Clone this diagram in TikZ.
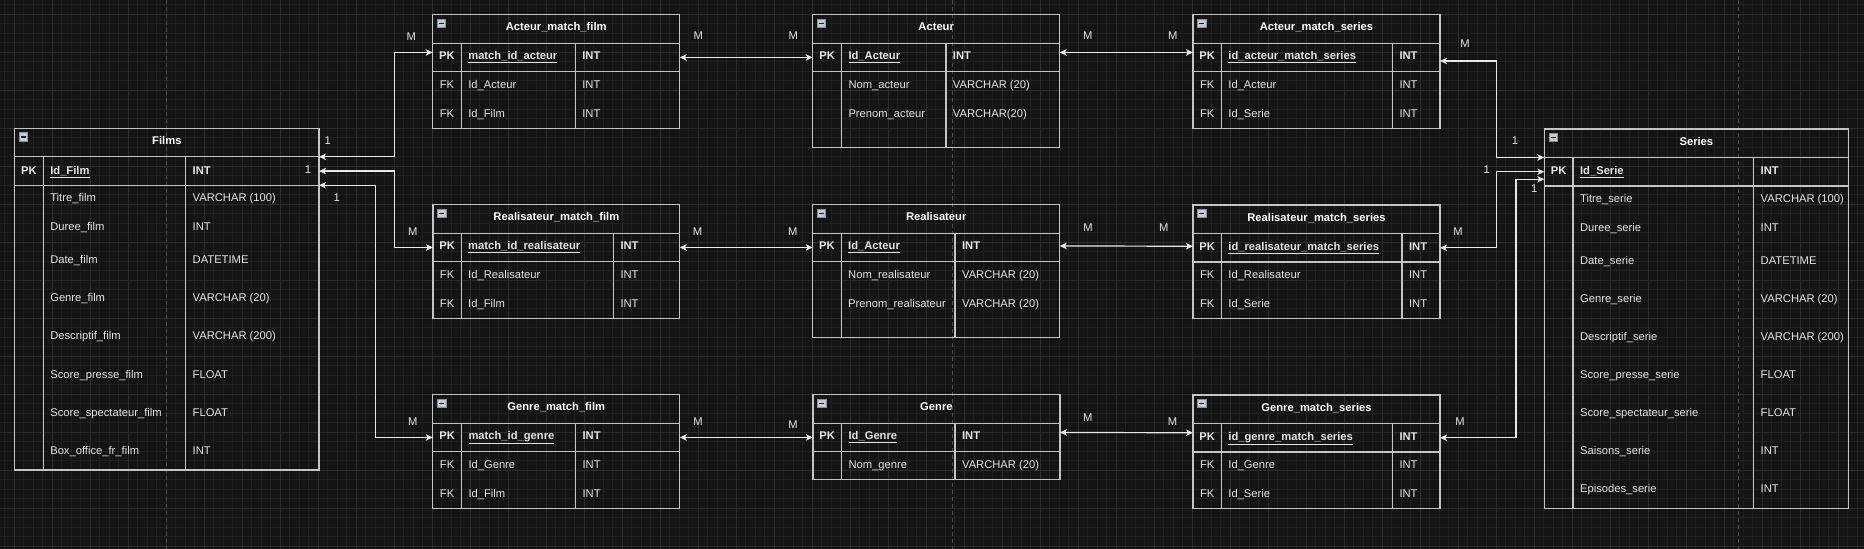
\documentclass[tikz,border=0pt]{standalone}
\usepackage{fontspec}
\setmainfont{Liberation Sans}
\usepackage{tikz}
\usetikzlibrary{arrows.meta,positioning}
\definecolor{bgdark}{RGB}{20,20,20}
\definecolor{gridminor}{RGB}{31,31,31}
\definecolor{gridmajor}{RGB}{44,44,44}
\definecolor{pageline}{RGB}{78,78,78}
\definecolor{edgegray}{RGB}{196,196,196}
\definecolor{linkwhite}{RGB}{232,232,232}
\definecolor{txtgray}{RGB}{228,228,228}
\definecolor{iconfill}{RGB}{198,202,214}
\definecolor{boxedge}{RGB}{140,144,156}
\definecolor{icondark}{RGB}{30,30,34}

% table frame: name, x, y, width, height, title, col1, col2
\newcommand{\ertable}[8]{%
  \def\tabx{#2}\def\taby{#3}\def\tabca{#7}\def\tabcb{#8}%
  \node[tbl, minimum width=#4pt, minimum height=#5pt] (#1) at (#2,#3) {};
  \node[pkband, minimum width=#4pt] (#1_pk) at (#2,{#3+28.5}) {};
  \draw[tline] ({#2+#7},{#3+28.5}) -- ({#2+#7},{#3+#5});
  \draw[tline] ({#2+#8},{#3+28.5}) -- ({#2+#8},{#3+#5});
  \node[minusbox] (#1_m) at ({#2+8.8},{#3+8.5}) {};
  \node[ttl] (#1_t) at ({#2+#4/2},{#3+16}) {#6};
}
% one row: name, baseline offset, key, field, type
\newcommand{\errow}[5]{%
  \node[fld] (#1_k) at ({\tabx+\tabca/2},{\taby+#2}) {#3};
  \node[fld, anchor=base west] (#1_f) at ({\tabx+\tabca+7},{\taby+#2}) {#4};
  \node[fld, anchor=base west] (#1_v) at ({\tabx+\tabcb+7},{\taby+#2}) {#5};
}
\newcommand{\erpk}[3]{\errow{#1}{#2}{\textbf{PK}}{\textbf{\underline{#3}}}{\textbf{INT}}}

\begin{document}
\begin{tikzpicture}[x=1pt, y=-1pt, >={Stealth[length=7pt,width=6.5pt,inset=1.8pt]},
  every node/.style={font=\fontsize{11.2}{13}\selectfont, text=txtgray, inner sep=0pt, outer sep=0pt},
  tbl/.style={draw=edgegray, line width=1.3pt, rectangle, anchor=north west},
  pkband/.style={draw=edgegray, line width=1.3pt, rectangle, anchor=north west, minimum height=28.5pt},
  tline/.style={draw=edgegray, line width=1.3pt},
  ttl/.style={font=\fontsize{11.2}{13}\selectfont\bfseries, text=white, anchor=base},
  fld/.style={anchor=base},
  minusbox/.style={draw=boxedge, fill=iconfill, minimum size=8.5pt, line width=0.6pt,
    path picture={\draw[icondark, line width=1.4pt] ([xshift=1.8pt]path picture bounding box.west) -- ([xshift=-1.8pt]path picture bounding box.east);}},
  card/.style={anchor=center},
  link/.style={draw=linkwhite, line width=1.2pt, <->}]

  % background and grid
  \fill[bgdark] (0,0) rectangle (1864,549);
  \useasboundingbox (0,0) rectangle (1864,549);
  \foreach \i in {0,...,195} \draw[gridminor, line width=0.8pt] ({4.8+9.5*\i},0) -- ({4.8+9.5*\i},549);
  \foreach \i in {0,...,57} \draw[gridminor, line width=0.8pt] (0,{4.8+9.5*\i}) -- (1864,{4.8+9.5*\i});
  \foreach \i in {0,...,48} \draw[gridmajor, line width=1pt] ({14.3+38*\i},0) -- ({14.3+38*\i},549);
  \foreach \i in {0,...,14} \draw[gridmajor, line width=1pt] (0,{14.3+38*\i}) -- (1864,{14.3+38*\i});
  \foreach \px in {166.7,952.3,1738.5} \draw[pageline, line width=1pt, dash pattern=on 4pt off 3pt] (\px,0) -- (\px,549);

  % Films
  \ertable{films}{14.7}{128.3}{304.3}{341.7}{Films}{28.6}{171}
  \erpk{films_r0}{45.7}{Id\_Film}
  \errow{films_r1}{73.4}{}{Titre\_film}{VARCHAR (100)}
  \errow{films_r2}{102.4}{}{Duree\_film}{INT}
  \errow{films_r3}{135.4}{}{Date\_film}{DATETIME}
  \errow{films_r4}{173.4}{}{Genre\_film}{VARCHAR (20)}
  \errow{films_r5}{211.4}{}{Descriptif\_film}{VARCHAR (200)}
  \errow{films_r6}{249.7}{}{Score\_presse\_film}{FLOAT}
  \errow{films_r7}{287.7}{}{Score\_spectateur\_film}{FLOAT}
  \errow{films_r8}{325.7}{}{Box\_office\_fr\_film}{INT}

  % Series
  \ertable{series}{1544.3}{129}{304.1}{379.3}{Series}{28.8}{209.4}
  \erpk{series_r0}{45}{Id\_Serie}
  \errow{series_r1}{73}{}{Titre\_serie}{VARCHAR (100)}
  \errow{series_r2}{102}{}{Duree\_serie}{INT}
  \errow{series_r3}{135}{}{Date\_serie}{DATETIME}
  \errow{series_r4}{173}{}{Genre\_serie}{VARCHAR (20)}
  \errow{series_r5}{211}{}{Descriptif\_serie}{VARCHAR (200)}
  \errow{series_r6}{249}{}{Score\_presse\_serie}{FLOAT}
  \errow{series_r7}{287}{}{Score\_spectateur\_serie}{FLOAT}
  \errow{series_r8}{325}{}{Saisons\_serie}{INT}
  \errow{series_r9}{363}{}{Episodes\_serie}{INT}

  % Acteur row
  \ertable{amf}{432.7}{14.7}{247}{113.6}{Acteur\_match\_film}{28.6}{142.6}
  \erpk{amf_r0}{45}{match\_id\_acteur}
  \errow{amf_r1}{73.6}{FK}{Id\_Acteur}{INT}
  \errow{amf_r2}{102.5}{FK}{Id\_Film}{INT}

  \ertable{acteur}{812.7}{14.7}{247}{132.6}{Acteur}{28.8}{133.2}
  \erpk{acteur_r0}{45}{Id\_Acteur}
  \errow{acteur_r1}{73.6}{}{Nom\_acteur}{VARCHAR (20)}
  \errow{acteur_r2}{102.5}{}{Prenom\_acteur}{VARCHAR(20)}

  \ertable{ams}{1193}{14.7}{247}{113.6}{Acteur\_match\_series}{28.4}{199.5}
  \erpk{ams_r0}{45}{id\_acteur\_match\_series}
  \errow{ams_r1}{73.6}{FK}{Id\_Acteur}{INT}
  \errow{ams_r2}{102.5}{FK}{Id\_Serie}{INT}

  % Realisateur row
  \ertable{rmf}{433}{204.7}{246.7}{113.6}{Realisateur\_match\_film}{28.2}{180.5}
  \erpk{rmf_r0}{45}{match\_id\_realisateur}
  \errow{rmf_r1}{73.6}{FK}{Id\_Realisateur}{INT}
  \errow{rmf_r2}{102.5}{FK}{Id\_Film}{INT}

  \ertable{real}{812.7}{204.7}{247}{132.6}{Realisateur}{28.5}{142.4}
  \erpk{real_r0}{45}{Id\_Acteur}
  \errow{real_r1}{73.6}{}{Nom\_realisateur}{VARCHAR (20)}
  \errow{real_r2}{102.5}{}{Prenom\_realisateur}{VARCHAR (20)}

  \ertable{rms}{1193}{205}{247}{113.3}{Realisateur\_match\_series}{28.4}{209.1}
  \erpk{rms_r0}{45}{id\_realisateur\_match\_series}
  \errow{rms_r1}{73.6}{FK}{Id\_Realisateur}{INT}
  \errow{rms_r2}{102.5}{FK}{Id\_Serie}{INT}

  % Genre row
  \ertable{gmf}{432.8}{394.7}{247}{113.6}{Genre\_match\_film}{28.7}{142.8}
  \erpk{gmf_r0}{45}{match\_id\_genre}
  \errow{gmf_r1}{73.6}{FK}{Id\_Genre}{INT}
  \errow{gmf_r2}{102.5}{FK}{Id\_Film}{INT}

  \ertable{genre}{812.9}{394.7}{247}{85}{Genre}{28.7}{142.2}
  \erpk{genre_r0}{45}{Id\_Genre}
  \errow{genre_r1}{73.6}{}{Nom\_genre}{VARCHAR (20)}

  \ertable{gms}{1193}{395}{247}{113.3}{Genre\_match\_series}{28.4}{199.5}
  \erpk{gms_r0}{45}{id\_genre\_match\_series}
  \errow{gms_r1}{73.6}{FK}{Id\_Genre}{INT}
  \errow{gms_r2}{102.5}{FK}{Id\_Serie}{INT}

  % relations
  \draw[link] (films_pk.north east) -- ++(75.3,0) |- ([yshift=5pt]amf_pk.west);
  \draw[link] (films_pk.east) -- ++(75.3,0) |- (rmf_pk.west);
  \draw[link] (films_pk.south east) -- ++(56.7,0) |- (gmf_pk.west);
  \draw[link] (amf_pk.east) -- (acteur_pk.west);
  \draw[link] ([yshift=5pt]acteur_pk.east) -- ([yshift=5pt]ams_pk.west);
  \draw[link] ([yshift=-3.5pt]ams_pk.east) -- ++(56.8,0) |- (series_pk.north west);
  \draw[link] (rmf_pk.east) -- (real_pk.west);
  \draw[link] ([yshift=1.5pt]real_pk.east) -- ([yshift=1.5pt]rms_pk.west);
  \draw[link] (rms_pk.east) -- ++(56.8,0) |- (series_pk.west);
  \draw[link] (gmf_pk.east) -- (genre_pk.west);
  \draw[link] ([yshift=5pt]genre_pk.east) -- ([yshift=5pt]gms_pk.west);
  \draw[link] (gms_pk.east) -- ++(76,0) |- ([yshift=-7.5pt]series_pk.west);

  % cardinalities
  \node[card] (c_af1) at (327.7,141) {1};
  \node[card] (c_af2) at (411.3,36.9) {M};
  \node[card] (c_rf1) at (308,170) {1};
  \node[card] (c_rf2) at (412.7,231.7) {M};
  \node[card] (c_gf1) at (336.7,197.7) {1};
  \node[card] (c_gf2) at (412.7,421.7) {M};
  \node[card] (c_aa1) at (698.3,36) {M};
  \node[card] (c_aa2) at (793.3,36) {M};
  \node[card] (c_as1) at (1087.9,36) {M};
  \node[card] (c_as2) at (1172.9,36) {M};
  \node[card] (c_se1) at (1464.9,43.3) {M};
  \node[card] (c_se2) at (1515,141) {1};
  \node[card] (c_rr1) at (697.6,231.7) {M};
  \node[card] (c_rr2) at (792.7,231.7) {M};
  \node[card] (c_rs1) at (1088,227.7) {M};
  \node[card] (c_rs2) at (1163.7,227.7) {M};
  \node[card] (c_sr1) at (1458,231.7) {M};
  \node[card] (c_sr2) at (1486.7,170) {1};
  \node[card] (c_gg1) at (698,421.7) {M};
  \node[card] (c_gg2) at (793,424.3) {M};
  \node[card] (c_gs1) at (1087.7,417.7) {M};
  \node[card] (c_gs2) at (1172.6,421.7) {M};
  \node[card] (c_sg1) at (1460,421.7) {M};
  \node[card] (c_sg2) at (1534.3,189) {1};
\end{tikzpicture}
\end{document}
